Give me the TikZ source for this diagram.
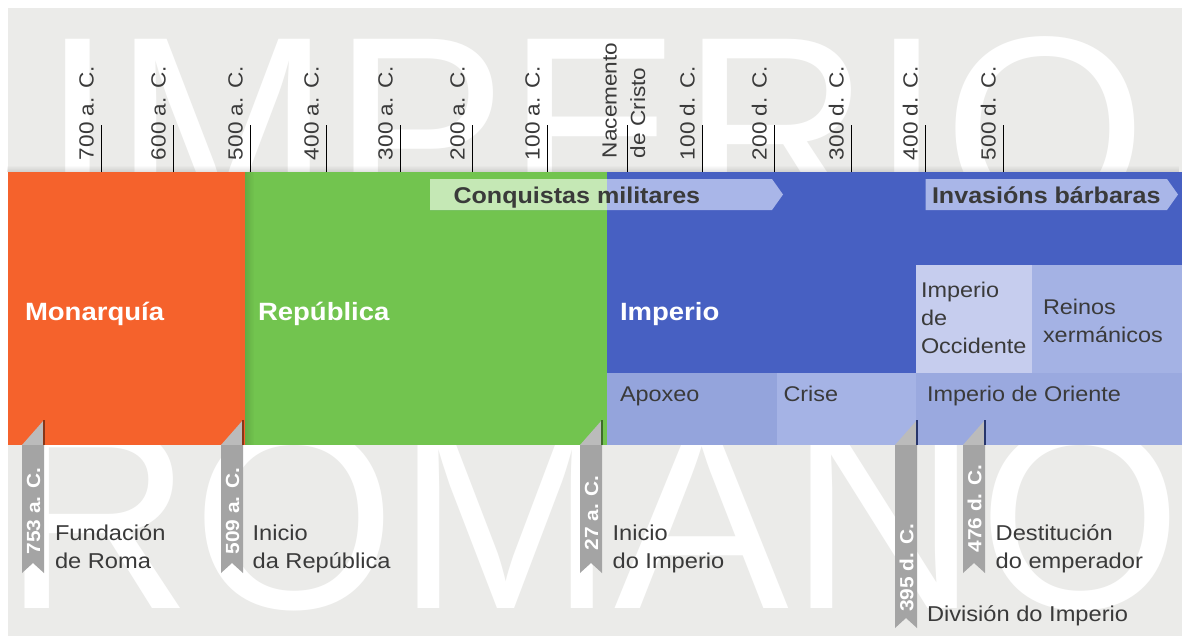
\documentclass[tikz,border=0pt]{standalone}
\usepackage{fontspec}
\setmainfont{Liberation Sans}[FakeStretch=1.1]
\newfontfamily\watermarkfont{Liberation Sans}
\usetikzlibrary{positioning,calc,fadings}
\definecolor{bggray}{RGB}{235,235,233}
\definecolor{monorange}{RGB}{245,98,44}
\definecolor{repgreen}{RGB}{114,196,79}
\definecolor{impblue}{RGB}{71,96,194}
\definecolor{apoxblue}{RGB}{148,164,220}
\definecolor{criseblue}{RGB}{165,179,229}
\definecolor{orientblue}{RGB}{154,169,223}
\definecolor{occblue}{RGB}{198,205,238}
\definecolor{reinoblue}{RGB}{164,178,228}
\definecolor{arrowgreen}{RGB}{197,232,181}
\definecolor{arrowblue}{RGB}{169,182,232}
\definecolor{ribbongray}{RGB}{164,164,164}
\definecolor{textgray}{RGB}{58,58,58}

\begin{document}
\begin{tikzpicture}[x=1pt, y=-1pt,
    every node/.style={inner sep=0pt, outer sep=0pt},
    ticklabel/.style={rotate=90, anchor=base west, text=textgray, font=\fontsize{20.5}{28.5}\selectfont, align=left},
    era/.style={anchor=base west, text=white, font=\bfseries\fontsize{25}{30}\selectfont},
    phase/.style={anchor=base west, text=textgray, font=\fontsize{21.3}{28}\selectfont, align=left},
    event/.style={anchor=base west, text=textgray, font=\fontsize{21.5}{28}\selectfont, align=left},
    datelabel/.style={rotate=90, text=white, font=\bfseries\fontsize{19}{19}\selectfont},
    arrowlabel/.style={anchor=base west, text=textgray, font=\bfseries\fontsize{22.8}{24}\selectfont},
    watermark/.style={anchor=base west, text=white, font=\watermarkfont\fontsize{262}{262}\selectfont}
]

% === CANVAS ===
\useasboundingbox (0,0) rectangle (1182,638);
\fill[white] (0,0) rectangle (1182,638);
\fill[bggray] (8,8) rectangle (1182,636);

% Big title behind the timeline
\node[watermark] (title-top) at (41,219) {IMPERIO};
\node[watermark] (title-bottom) at (3,608) {ROMANO};

% === YEAR SCALE ===
\foreach \x/\year in {101/700 a. C., 173/600 a. C., 250/500 a. C., 326/400 a. C., 400/300 a. C., 472/200 a. C., 547/100 a. C., 702/100 d. C., 774/200 d. C., 851/300 d. C., 925/400 d. C., 1003/500 d. C.} {
    \draw[black, line width=1pt] (\x,125) -- (\x,172);
    \node[ticklabel] (tick-\x) at (\x-7.5,160) {\year};
}
\draw[black, line width=1pt] (627,125) -- (627,172);
\node[ticklabel] (tick-zero) at (645,158) {Nacemento\\de Cristo};

% === PERIODS ===
\fill[black, path fading=north, opacity=.12] (8,165) rectangle (1182,172);
\fill[monorange] (8,172) rectangle (245,445);
\fill[repgreen] (245,172) rectangle (607,445);
\fill[black, path fading=east, opacity=.12] (245,172) rectangle (254,445);
\fill[impblue] (607,172) rectangle (1182,445);

% Imperio subdivisions
\fill[apoxblue] (607,373) rectangle (776.5,445);
\fill[criseblue] (776.5,373) rectangle (916,445);
\fill[orientblue] (916,373) rectangle (1182,445);
\fill[occblue] (916,265) rectangle (1032,373);
\fill[reinoblue] (1032,265) rectangle (1182,373);

\node[era] (monarquia) at (25,320) {Monarquía};
\node[era] (republica) at (258,320) {República};
\node[era] (imperio) at (620,320) {Imperio};

\node[phase] (apoxeo) at (620,401) {Apoxeo};
\node[phase] (crise) at (783.5,401) {Crise};
\node[phase] (oriente) at (927,401) {Imperio de Oriente};
\node[phase] (occidente) at (921,353) {Imperio\\de\\Occidente};
\node[phase] (reinos) at (1043,342) {Reinos\\xermánicos};

% === PROCESS ARROWS ===
\fill[arrowblue] (430,179) -- (772,179) -- (783,194.5) -- (772,210) -- (430,210) -- cycle;
\fill[arrowgreen] (430,179) rectangle (607,210);
\node[arrowlabel] (conquistas) at (453.5,203) {Conquistas militares};

\fill[arrowblue] (925.5,179) -- (1167,179) -- (1178,194.5) -- (1167,210) -- (925.5,210) -- cycle;
\node[arrowlabel] (invasions) at (932,203) {Invasións bárbaras};

% === DATE RIBBONS ===
% left edge / bottom / text centre / band colour / date
\foreach \l/\bot/\mid/\col/\date [count=\n] in {22/573/511/monorange/753 a. C., 221/573/511/monorange/509 a. C., 580/573/513/repgreen/27 a. C., 895/628/568/impblue/395 d. C., 963/573/508.5/impblue/476 d. C.} {
    \fill[ribbongray!75!white] (\l,445) -- (\l+22,420) -- (\l+22,445) -- cycle;
    \draw[\col!55!black, line width=1.5pt] (\l+22,420) -- (\l+22,445);
    \fill[ribbongray] (\l,445) -- (\l+22,445) -- (\l+22,\bot) -- (\l+11,\bot-10) -- (\l,\bot) -- cycle;
    \node[datelabel] (date-\n) at (\l+11.5,\mid) {\date};
}

% === EVENTS ===
\node[event] (fundacion) at (55,568) {Fundación\\de Roma};
\node[event] (inicio-rep) at (252.6,568) {Inicio\\da República};
\node[event] (inicio-imp) at (612.6,568) {Inicio\\do Imperio};
\node[event] (destitucion) at (995.7,568) {Destitución\\do emperador};
\node[event] (division) at (927,621) {División do Imperio};

\end{tikzpicture}
\end{document}
